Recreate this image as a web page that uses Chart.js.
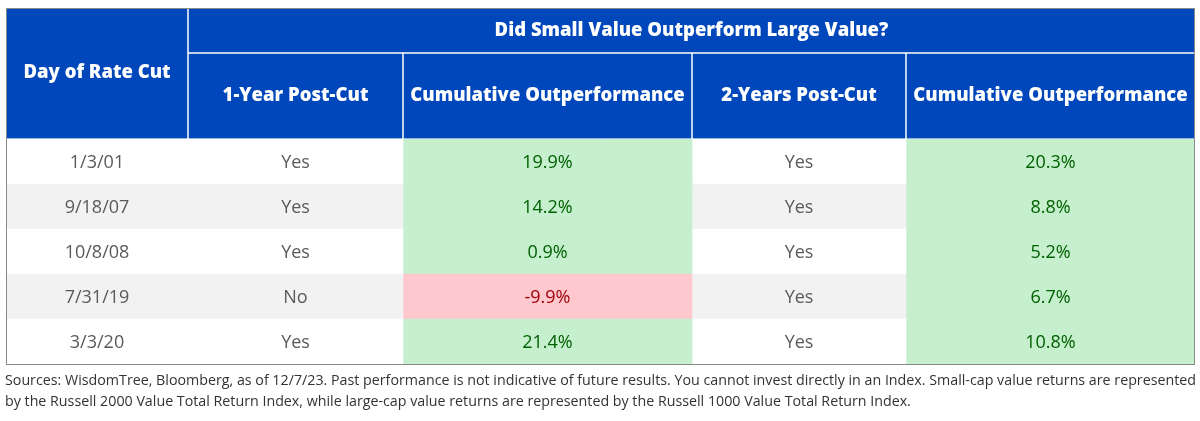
<!DOCTYPE html>
<html>
<head>
<meta charset="utf-8">
<script src="https://cdn.jsdelivr.net/npm/chart.js@4.4.0/dist/chart.umd.min.js"></script>
<style>
  html, body { margin: 0; padding: 0; background: #fff; }
  #wrap { width: 1200px; height: 421px; position: relative; }
</style>
</head>
<body>
<div id="wrap"><canvas id="rateCutTable"></canvas></div>
<script>
// data
var cutDays = ["1/3/01", "9/18/07", "10/8/08", "7/31/19", "3/3/20"];
var oneYearBeat = ["Yes", "Yes", "Yes", "No", "Yes"];
var oneYearCum = [19.9, 14.2, 0.9, -9.9, 21.4];
var twoYearBeat = ["Yes", "Yes", "Yes", "Yes", "Yes"];
var twoYearCum = [20.3, 8.8, 5.2, 6.7, 10.8];
var groupHeader = "Did Small Value Outperform Large Value?";
var columnHeaders = ["Day of Rate Cut", "1-Year Post-Cut", "Cumulative Outperformance", "2-Years Post-Cut", "Cumulative Outperformance"];
var footnote = [
  "Sources: WisdomTree, Bloomberg, as of 12/7/23. Past performance is not indicative of future results. You cannot invest directly in an Index. Small-cap value returns are represented",
  "by the Russell 2000 Value Total Return Index, while large-cap value returns are represented by the Russell 1000 Value Total Return Index."
];

// layout
var colEdges = [0, 182, 397, 686, 900, 1189];
var tableTop = 8, headRow1 = 45, headRow2 = 86;
var blue = "#0047bb";
var green = "#c6efce", greenText = "#006100";
var red = "#ffc7ce", redText = "#9c0006";
var stripe = "#f2f2f2";
var bodyFont = "18px 'Open Sans', sans-serif";
var headFont = "800 18.5px 'Open Sans', sans-serif";

function pct(v) { return v.toFixed(1) + "%"; }

var columns = [cutDays, oneYearBeat, oneYearCum, twoYearBeat, twoYearCum];
var isNumeric = [false, false, true, false, true];

var datasets = columns.map(function (col, c) {
  return {
    label: columnHeaders[c],
    data: col.map(function () { return [colEdges[c], colEdges[c + 1]]; }),
    backgroundColor: col.map(function (v, r) {
      if (isNumeric[c]) return v >= 0 ? green : red;
      return r % 2 ? stripe : "#ffffff";
    }),
    borderWidth: 0,
    barPercentage: 1,
    categoryPercentage: 1,
    grouped: false
  };
});

var tablePlugin = {
  id: "tablePlugin",
  afterDatasetsDraw: function (chart) {
    var ctx = chart.ctx;
    var xs = chart.scales.x;
    var area = chart.chartArea;
    ctx.save();

    // cell text, centred on each bar
    ctx.textAlign = "center";
    ctx.textBaseline = "middle";
    ctx.font = bodyFont;
    chart.data.datasets.forEach(function (ds, c) {
      var meta = chart.getDatasetMeta(c);
      meta.data.forEach(function (bar, r) {
        var p = bar.getProps(["x", "y", "base"], true);
        var v = columns[c][r];
        if (isNumeric[c]) {
          ctx.fillStyle = v >= 0 ? greenText : redText;
          v = pct(v);
        } else {
          ctx.fillStyle = "#5a5a5a";
        }
        ctx.fillText(v, (p.x + p.base) / 2, p.y + 1);
      });
    });

    // header block
    var left = xs.getPixelForValue(colEdges[0]);
    var right = xs.getPixelForValue(colEdges[colEdges.length - 1]);
    var midY = tableTop + headRow1;
    ctx.fillStyle = blue;
    ctx.fillRect(left, tableTop, right - left, area.top - tableTop);

    ctx.strokeStyle = "#ffffff";
    ctx.lineWidth = 1.5;
    ctx.beginPath();
    var c1 = xs.getPixelForValue(colEdges[1]);
    ctx.moveTo(c1, tableTop);
    ctx.lineTo(c1, area.top);
    ctx.moveTo(c1, midY);
    ctx.lineTo(right, midY);
    for (var i = 2; i < colEdges.length - 1; i++) {
      var cx = xs.getPixelForValue(colEdges[i]);
      ctx.moveTo(cx, midY);
      ctx.lineTo(cx, area.top);
    }
    ctx.stroke();
    ctx.lineWidth = 1;
    ctx.strokeStyle = "rgba(255,255,255,0.6)";
    ctx.beginPath();
    ctx.moveTo(left, area.top - 0.5);
    ctx.lineTo(right, area.top - 0.5);
    ctx.stroke();

    ctx.fillStyle = "#ffffff";
    ctx.font = headFont;
    ctx.fillText(groupHeader, (c1 + right) / 2, tableTop + headRow1 / 2);
    ctx.fillText(columnHeaders[0], (left + c1) / 2, (tableTop + area.top) / 2 - 1);
    for (var j = 1; j < columnHeaders.length; j++) {
      var a = xs.getPixelForValue(colEdges[j]);
      var b = xs.getPixelForValue(colEdges[j + 1]);
      ctx.fillText(columnHeaders[j], (a + b) / 2, midY + headRow2 / 2);
    }

    // outer border
    ctx.strokeStyle = "#8a8a8a";
    ctx.lineWidth = 1;
    ctx.strokeRect(left + 0.5, tableTop + 0.5, right - left - 1, area.bottom - tableTop);

    // footnote
    ctx.textAlign = "left";
    ctx.textBaseline = "middle";
    ctx.fillStyle = "#333333";
    ctx.font = "14.3px 'Open Sans', sans-serif";
    var w1 = ctx.measureText(footnote[0]).width;
    var fit = Math.min(1, (right - left + 2) / w1);
    ctx.fillText(footnote[0], left - 1, area.bottom + 17, w1 * fit);
    var w2 = ctx.measureText(footnote[1]).width;
    ctx.fillText(footnote[1], left - 1, area.bottom + 38, w2 * fit);

    ctx.restore();
  }
};

var ctx = document.getElementById("rateCutTable").getContext("2d");
var myChart = new Chart(ctx, {
  type: "bar",
  data: {
    labels: cutDays,
    datasets: datasets
  },
  options: {
    indexAxis: "y",
    responsive: true,
    maintainAspectRatio: false,
    animation: false,
    layout: {
      padding: { left: 6, right: 5, top: 139, bottom: 57 }
    },
    scales: {
      x: { type: "linear", min: colEdges[0], max: colEdges[colEdges.length - 1], display: false },
      y: { type: "category", display: false, offset: true }
    },
    plugins: {
      legend: { display: false },
      tooltip: { enabled: false }
    }
  },
  plugins: [tablePlugin]
});
</script>
</body>
</html>
